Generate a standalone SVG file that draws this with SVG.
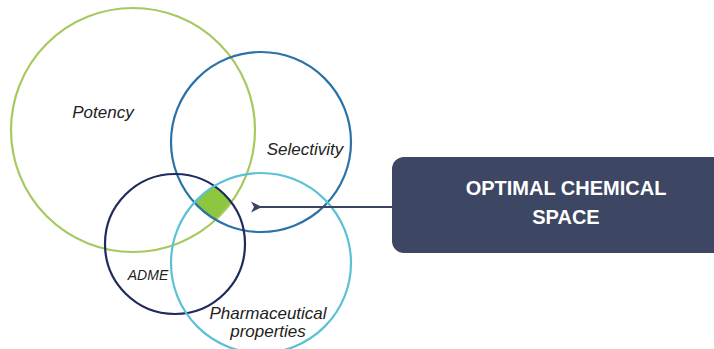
<svg xmlns="http://www.w3.org/2000/svg" width="714" height="349" viewBox="0 0 714 349">
  <style>
    .ring { fill: none; stroke-width: 2.2; }
    .label { font-family: "Liberation Sans", Arial, sans-serif; font-style: italic; fill: #222; }
    .box-text { font-family: "Liberation Sans", Arial, sans-serif; font-weight: bold; font-size: 20px; fill: #ffffff; text-anchor: middle; }
  </style>
  <defs>
    <clipPath id="clip-potency"><circle cx="133" cy="130" r="122"/></clipPath>
    <clipPath id="clip-selectivity"><circle cx="261" cy="142" r="90"/></clipPath>
    <clipPath id="clip-adme"><circle cx="175" cy="244" r="70"/></clipPath>
    <marker id="arrowhead" markerWidth="12" markerHeight="12" refX="2" refY="5.5" orient="auto" markerUnits="userSpaceOnUse">
      <path d="M11,0 L0,5.5 L11,11 L8,5.5 Z" fill="#3b4561"/>
    </marker>
  </defs>
  <rect width="714" height="349" fill="#ffffff"/>

  <!-- overlap of all four sets -->
  <g id="overlap">
    <g clip-path="url(#clip-potency)">
      <g clip-path="url(#clip-selectivity)">
        <g clip-path="url(#clip-adme)">
          <circle cx="261" cy="263" r="90" fill="#8dc63f"/>
        </g>
      </g>
    </g>
  </g>

  <g id="potency">
    <circle class="ring" cx="133" cy="130" r="122" stroke="#a6c95f"/>
    <text class="label" x="103" y="118" font-size="17" text-anchor="middle">Potency</text>
  </g>
  <g id="selectivity">
    <circle class="ring" cx="261" cy="142" r="90" stroke="#2a72a8"/>
    <text class="label" x="305" y="155" font-size="17" text-anchor="middle">Selectivity</text>
  </g>
  <g id="adme">
    <circle class="ring" cx="175" cy="244" r="70" stroke="#1f2b5e"/>
    <text class="label" x="148" y="280" font-size="14" text-anchor="middle">ADME</text>
  </g>
  <g id="pharmaceutical">
    <circle class="ring" cx="261" cy="263" r="90" stroke="#5cc1d6"/>
    <text class="label" x="268" y="319" font-size="17" text-anchor="middle">Pharmaceutical</text>
    <text class="label" x="268" y="337" font-size="17" text-anchor="middle">properties</text>
  </g>

  <g id="connectors">
    <line x1="393" y1="207" x2="260" y2="207" stroke="#3b4561" stroke-width="2" marker-end="url(#arrowhead)"/>
  </g>

  <g id="optimal-space">
    <rect x="392" y="157" width="340" height="96" rx="12" ry="12" fill="#3d4663"/>
    <text class="box-text" x="566" y="195">OPTIMAL CHEMICAL</text>
    <text class="box-text" x="566" y="224">SPACE</text>
  </g>
</svg>
